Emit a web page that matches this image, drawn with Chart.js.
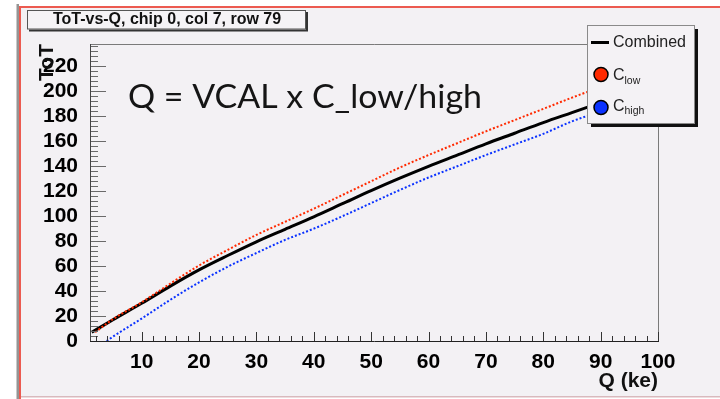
<!DOCTYPE html>
<html>
<head>
<meta charset="utf-8">
<script src="https://cdn.jsdelivr.net/npm/chart.js@4.4.1/dist/chart.umd.min.js"></script>
<style>
  html, body { margin: 0; padding: 0; background: #fff; }
  #wrap { width: 720px; height: 399px; position: relative; }
</style>
</head>
<body>
<div id="wrap"><canvas id="totChart" width="720" height="399"></canvas></div>
<script>
// ToT vs injected charge
const combinedQ = [1.3, 5, 10, 15, 20, 25, 30, 35, 40, 45, 50, 55, 60, 65, 70, 75, 80, 85, 90, 95, 100];
const combinedToT = [7, 17, 30.2, 44, 57, 68.5, 79.5, 89.5, 99.5, 110, 120.5, 130.5, 140, 149, 158, 166.5, 175, 183, 191, 199, 207];

const lowQ = [1.9, 5, 10, 15, 20, 25, 30, 35, 40, 45, 50, 55, 60, 65, 70, 75, 80, 85, 90, 95, 100];
const lowToT = [7, 17.5, 31, 46, 60.5, 73, 85, 95.5, 106, 117, 128, 139, 149, 158.5, 168, 177, 186, 195, 203.5, 212, 220];

const highQ = [3.9, 5, 10, 15, 20, 25, 30, 35, 40, 45, 50, 55, 60, 65, 70, 75, 80, 85, 90, 95, 100];
const highToT = [0, 3.5, 18, 33, 47, 59.5, 70.5, 81, 90, 100, 110.5, 121, 131, 140, 149, 157.5, 166, 176, 184, 192, 200];

const xTickValues = [10, 20, 30, 40, 50, 60, 70, 80, 90, 100];
const yTickValues = [0, 20, 40, 60, 80, 100, 120, 140, 160, 180, 200, 220];
const xMinorStep = 2;
const yMinorStep = 4;

const histTitle = "ToT-vs-Q, chip 0, col 7, row 79";
const noteText = "Q = VCAL x C_low/high";

const toPoints = (xs, ys) => xs.map((q, i) => ({ x: q, y: ys[i] }));

const tickFont = { family: "'Liberation Sans', Arial, sans-serif", size: 21, weight: "bold" };

// ROOT-style canvas: pad, frame, ticks, title box, legend
const rootPad = {
  id: "rootPad",
  beforeDraw(chart) {
    const ctx = chart.ctx;
    ctx.save();
    ctx.fillStyle = "#ffffff";
    ctx.fillRect(0, 0, chart.width, chart.height);
    ctx.fillStyle = "#f3f1f4";
    ctx.fillRect(21, 8, chart.width - 21, 388);
    ctx.fillStyle = "#949494";
    ctx.fillRect(16.5, 4, 2.5, chart.height - 4);
    ctx.strokeStyle = "#ec5a50";
    ctx.lineWidth = 2;
    ctx.beginPath();
    ctx.moveTo(chart.width, 7);
    ctx.lineTo(20, 7);
    ctx.lineTo(20, chart.height);
    ctx.stroke();
    ctx.fillStyle = "#d9b9bd";
    ctx.fillRect(21, 396, chart.width - 21, 1.5);
    ctx.restore();
  },
  afterDatasetsDraw(chart) {
    const { ctx, chartArea: a, scales } = chart;
    const x = scales.x, y = scales.y;
    ctx.save();
    ctx.lineWidth = 1;
    // top / right frame
    ctx.strokeStyle = "#7a7a7a";
    ctx.beginPath();
    ctx.moveTo(a.left, a.top + 0.5);
    ctx.lineTo(a.right + 0.5, a.top + 0.5);
    ctx.lineTo(a.right + 0.5, a.bottom);
    ctx.stroke();
    // y ticks (inside)
    ctx.strokeStyle = "#6a6a6a";
    ctx.beginPath();
    for (let v = y.min; v <= y.max; v += yMinorStep) {
      const py = Math.round(y.getPixelForValue(v)) + 0.5;
      const len = v % 20 === 0 ? 16 : 8;
      ctx.moveTo(a.left, py);
      ctx.lineTo(a.left + len, py);
    }
    ctx.stroke();
    // x ticks (inside)
    ctx.strokeStyle = "#333";
    ctx.beginPath();
    for (let v = xMinorStep; v <= x.max; v += xMinorStep) {
      const px = Math.round(x.getPixelForValue(v)) + 0.5;
      const len = v % 10 === 0 ? 9 : 5;
      ctx.moveTo(px, a.bottom);
      ctx.lineTo(px, a.bottom - len);
    }
    ctx.stroke();
    // axis lines
    ctx.strokeStyle = "#444";
    ctx.beginPath();
    ctx.moveTo(a.left + 0.5, a.top);
    ctx.lineTo(a.left + 0.5, a.bottom);
    ctx.stroke();
    ctx.strokeStyle = "#222";
    ctx.beginPath();
    ctx.moveTo(a.left, a.bottom + 0.5);
    ctx.lineTo(a.right + 1, a.bottom + 0.5);
    ctx.stroke();
    ctx.restore();
  },
  afterDraw(chart) {
    const { ctx, chartArea: a } = chart;
    const ds = chart.data.datasets;
    ctx.save();

    // title box
    ctx.fillStyle = "#333";
    ctx.fillRect(29, 12, 279, 19.5);
    ctx.fillStyle = "#f5f3f6";
    ctx.fillRect(27, 10, 279, 19.5);
    ctx.strokeStyle = "#555";
    ctx.lineWidth = 1;
    ctx.strokeRect(27.5, 10.5, 278, 18.5);
    ctx.fillStyle = "#111";
    ctx.font = "bold 16px 'Liberation Sans', Arial, sans-serif";
    ctx.textAlign = "center";
    ctx.textBaseline = "alphabetic";
    ctx.fillText(histTitle, 167, 24);

    // axis titles
    ctx.font = "bold 21px 'Liberation Sans', Arial, sans-serif";
    ctx.textAlign = "right";
    ctx.fillStyle = "#111";
    ctx.fillText("Q (ke)", a.right, 387);
    ctx.save();
    ctx.translate(53, a.top);
    ctx.rotate(-Math.PI / 2);
    ctx.textAlign = "right";
    ctx.fillText("ToT", 0, 0);
    ctx.restore();

    // annotation, stretched a little to the slide's width
    ctx.font = "33px Lato, 'Open Sans', sans-serif";
    ctx.textAlign = "left";
    ctx.fillStyle = "#151515";
    const noteW = ctx.measureText(noteText).width;
    ctx.save();
    ctx.translate(128, 108);
    ctx.scale(354 / noteW, 1);
    ctx.fillText(noteText, 0, 0);
    ctx.restore();

    // legend
    const lx = 587, ly = 25, lw = 107, lh = 98;
    ctx.fillStyle = "#111";
    ctx.fillRect(lx + 4, ly + 4, lw, lh);
    ctx.fillStyle = "#f4f2f5";
    ctx.fillRect(lx, ly, lw, lh);
    ctx.strokeStyle = "#8a8a8a";
    ctx.lineWidth = 1;
    ctx.strokeRect(lx + 0.5, ly + 0.5, lw, lh);

    ctx.font = "16px 'Liberation Sans', Arial, sans-serif";
    ctx.fillStyle = "#222";
    ctx.textAlign = "left";
    // Combined
    ctx.strokeStyle = ds[0].borderColor;
    ctx.lineWidth = 3;
    ctx.beginPath();
    ctx.moveTo(591, 42.5);
    ctx.lineTo(609, 42.5);
    ctx.stroke();
    ctx.fillText(ds[0].label, 613, 46.5);

    const marker = (cy, fill) => {
      ctx.beginPath();
      ctx.arc(601, cy, 7, 0, Math.PI * 2);
      ctx.fillStyle = fill;
      ctx.fill();
      ctx.lineWidth = 1.5;
      ctx.strokeStyle = "#000";
      ctx.stroke();
    };
    marker(74.5, ds[1].borderColor);
    marker(107.5, ds[2].borderColor);

    ctx.fillStyle = "#222";
    ctx.font = "16px 'Liberation Sans', Arial, sans-serif";
    ctx.fillText("C", 613, 80);
    ctx.fillText("C", 613, 110.5);
    ctx.font = "10.5px 'Liberation Sans', Arial, sans-serif";
    ctx.fillText("low", 624.5, 84);
    ctx.fillText("high", 624.5, 114);

    ctx.restore();
  }
};

new Chart(document.getElementById("totChart"), {
  type: "line",
  data: {
    datasets: [
      {
        label: "Combined",
        data: toPoints(combinedQ, combinedToT),
        borderColor: "#000000",
        borderWidth: 3,
        pointRadius: 0,
        fill: false,
        cubicInterpolationMode: "monotone",
        order: 2,
      },
      {
        label: "C_low",
        data: toPoints(lowQ, lowToT),
        borderColor: "#ff2a00",
        borderWidth: 2,
        borderDash: [2, 2],
        pointRadius: 0,
        fill: false,
        cubicInterpolationMode: "monotone",
        order: 0,
      },
      {
        label: "C_high",
        data: toPoints(highQ, highToT),
        borderColor: "#0a32ff",
        borderWidth: 2,
        borderDash: [2, 2],
        pointRadius: 0,
        fill: false,
        cubicInterpolationMode: "monotone",
        order: 1,
      },
    ],
  },
  options: {
    responsive: false,
    animation: false,
    layout: { padding: { left: 0, top: 44, right: 62, bottom: 0 } },
    plugins: {
      legend: { display: false },
      tooltip: { enabled: false },
    },
    scales: {
      x: {
        type: "linear",
        min: 1,
        max: 100,
        grid: { display: false },
        border: { display: false },
        ticks: {
          font: tickFont,
          color: "#000",
          padding: 1,
          autoSkip: false,
          maxRotation: 0,
        },
        afterBuildTicks: (s) => { s.ticks = xTickValues.map((v) => ({ value: v })); },
        afterFit: (s) => { s.height = 58; },
      },
      y: {
        type: "linear",
        min: 0,
        max: 238,
        grid: { display: false },
        border: { display: false },
        ticks: {
          font: tickFont,
          color: "#000",
          padding: 4,
          autoSkip: false,
        },
        afterBuildTicks: (s) => { s.ticks = yTickValues.map((v) => ({ value: v })); },
        afterFit: (s) => { s.width = 90; },
      },
    },
  },
  plugins: [rootPad],
});
</script>
</body>
</html>
